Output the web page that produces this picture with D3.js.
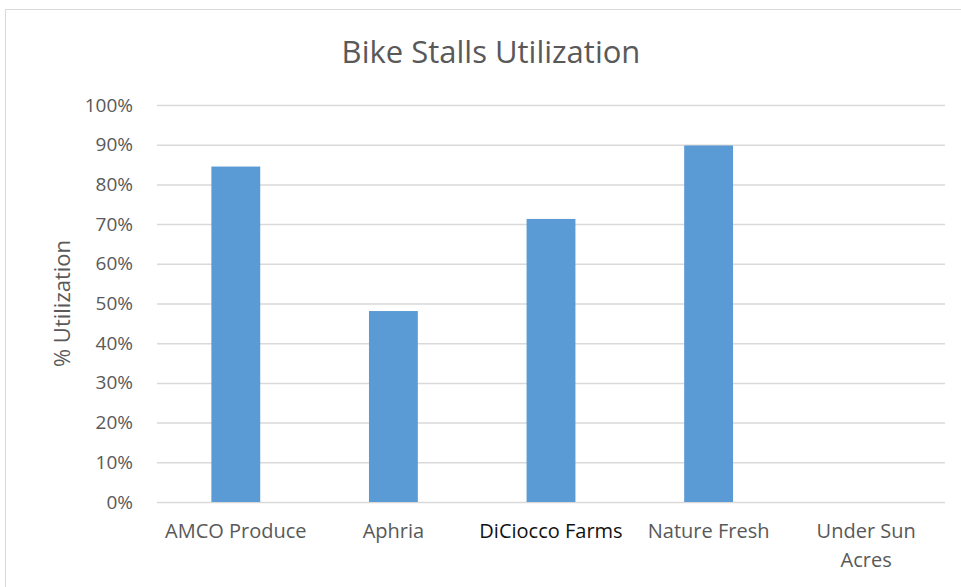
<!DOCTYPE html>
<html>
<head>
<meta charset="utf-8">
<script src="https://cdn.jsdelivr.net/npm/d3@7"></script>
<style>
  body { margin: 0; background: #fff; }
  text { font-family: "Open Sans", "Noto Sans", sans-serif; }
</style>
</head>
<body>
<div id="chart"></div>
<script>
var categories = ['AMCO Produce', 'Aphria', 'DiCiocco Farms', 'Nature Fresh', 'Under Sun Acres'];
var utilization = [0.845, 0.481, 0.713, 0.898, 0];
var yTicks = [0, 0.1, 0.2, 0.3, 0.4, 0.5, 0.6, 0.7, 0.8, 0.9, 1.0];

var width = 961, height = 587;
var margin = {top: 105, right: 16, bottom: 85, left: 157};

var svg = d3.select('#chart').append('svg')
  .attr('width', width)
  .attr('height', height);

// chart frame
svg.append('rect')
  .attr('x', 5.5).attr('y', 9.5)
  .attr('width', 1000).attr('height', 1000)
  .attr('fill', 'none')
  .attr('stroke', '#d9d9d9')
  .attr('stroke-width', 1);

var x = d3.scaleBand()
  .domain(categories)
  .range([margin.left, width - margin.right])
  .paddingInner(0.69)
  .paddingOuter(0.345);

var y = d3.scaleLinear()
  .domain([0, 1])
  .range([height - margin.bottom, margin.top]);

// gridlines + tick labels
var yAxis = d3.axisLeft(y)
  .tickValues(yTicks)
  .tickFormat(d3.format('.0%'))
  .tickSize(-(width - margin.left - margin.right))
  .tickPadding(24);

var gy = svg.append('g')
  .attr('transform', 'translate(' + margin.left + ',0)')
  .call(yAxis);
gy.select('.domain').remove();
gy.selectAll('.tick line')
  .attr('stroke', '#d9d9d9')
  .attr('stroke-width', 1.5);
gy.selectAll('.tick text')
  .attr('fill', '#595959')
  .style('font-size', '19px');

// bars
svg.selectAll('.bar')
  .data(utilization)
  .enter().append('rect')
  .attr('class', 'bar')
  .attr('x', function(d, i){ return x(categories[i]); })
  .attr('width', x.bandwidth())
  .attr('y', function(d){ return y(d); })
  .attr('height', function(d){ return y(0) - y(d); })
  .attr('fill', '#5b9bd5');

// category labels
var labelLines = {
  'Under Sun Acres': ['Under Sun', 'Acres']
};
var labels = svg.append('g');
categories.forEach(function(c){
  var lines = labelLines[c] || [c];
  var t = labels.append('text')
    .attr('x', x(c) + x.bandwidth() / 2)
    .attr('y', y(0) + 36)
    .attr('text-anchor', 'middle')
    .attr('fill', c === 'DiCiocco Farms' ? '#111' : '#595959')
    .style('font-size', '20px')
    .style('font-weight', c === 'DiCiocco Farms' ? 500 : 400);
  lines.forEach(function(l, i){
    t.append('tspan')
      .attr('x', x(c) + x.bandwidth() / 2)
      .attr('dy', i === 0 ? 0 : 29)
      .text(l);
  });
});

// title
svg.append('text')
  .attr('x', 491)
  .attr('y', 63)
  .attr('text-anchor', 'middle')
  .attr('fill', '#595959')
  .style('font-size', '31px')
  .text('Bike Stalls Utilization');

// y axis title
svg.append('text')
  .attr('transform', 'translate(70,' + ((y(0) + y(1)) / 2) + ') rotate(-90)')
  .attr('text-anchor', 'middle')
  .attr('fill', '#595959')
  .style('font-size', '22px')
  .text('% Utilization');
</script>
</body>
</html>
